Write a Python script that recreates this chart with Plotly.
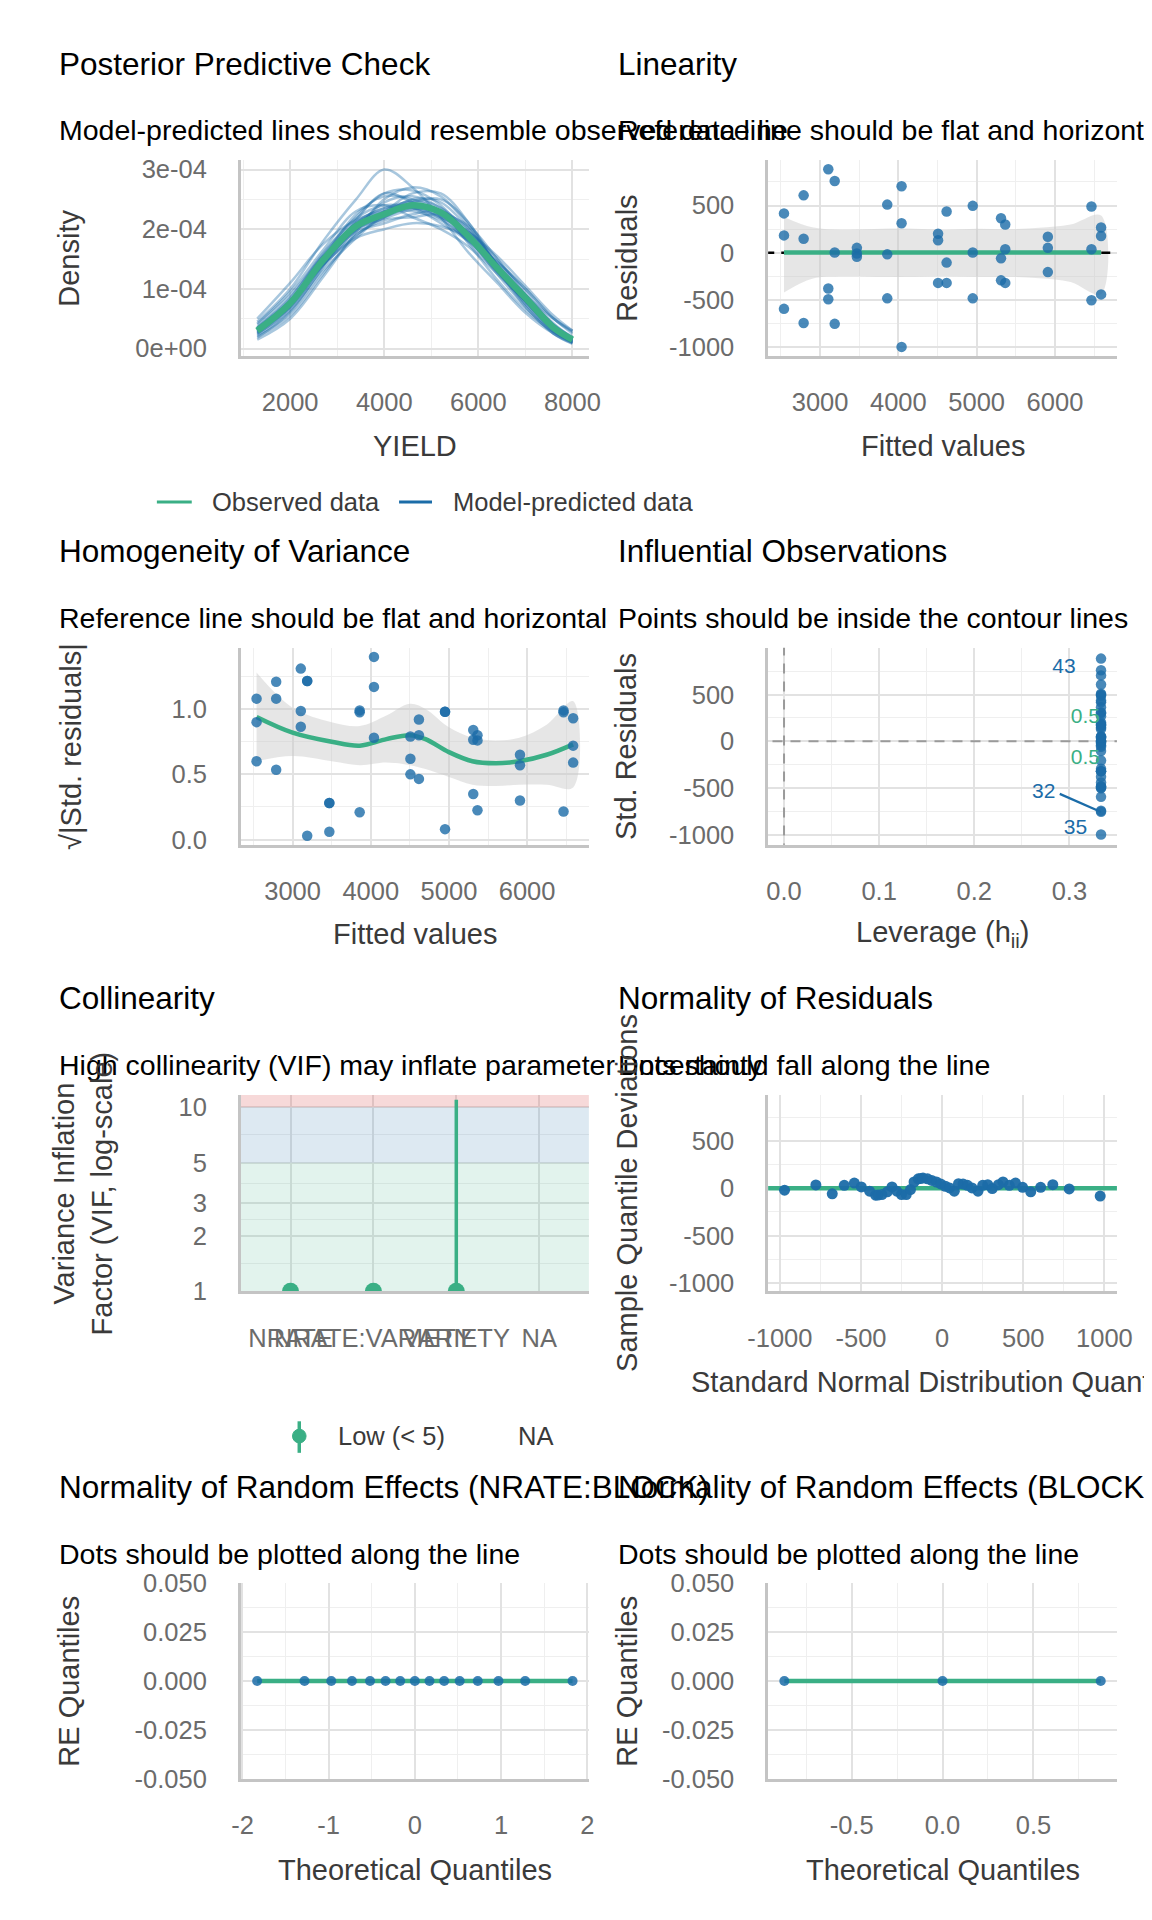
import plotly.graph_objects as go

# ---------------- data ----------------
# Posterior predictive check (density in units of 1e-4)
ppc_x = [1300, 2000, 2700, 3400, 4000, 4600, 5200, 5800, 6400, 7000, 7600, 8000]
ppc_observed = [0.30, 0.76, 1.48, 2.05, 2.25, 2.40, 2.28, 1.87, 1.35, 0.85, 0.35, 0.15]
ppc_predicted = [
    [0.45, 1.00, 1.80, 2.50, 3.00, 2.70, 2.20, 1.60, 1.10, 0.60, 0.25, 0.10],
    [0.25, 0.65, 1.35, 2.00, 2.45, 2.55, 2.35, 1.90, 1.30, 0.80, 0.35, 0.15],
    [0.20, 0.55, 1.25, 1.90, 2.15, 2.20, 2.25, 2.05, 1.50, 0.90, 0.40, 0.20],
    [0.35, 0.85, 1.60, 2.20, 2.60, 2.65, 2.40, 1.85, 1.25, 0.70, 0.25, 0.08],
    [0.30, 0.70, 1.40, 1.85, 2.00, 2.10, 2.05, 1.85, 1.45, 1.00, 0.50, 0.25],
    [0.50, 1.10, 1.75, 2.15, 2.30, 2.30, 2.15, 1.80, 1.30, 0.75, 0.30, 0.12],
    [0.15, 0.50, 1.20, 1.95, 2.50, 2.70, 2.55, 2.05, 1.40, 0.80, 0.30, 0.10],
    [0.28, 0.78, 1.52, 2.10, 2.35, 2.35, 2.10, 1.80, 1.45, 1.00, 0.50, 0.28],
    [0.40, 0.90, 1.55, 2.00, 2.20, 2.45, 2.50, 2.10, 1.40, 0.75, 0.28, 0.10],
    [0.22, 0.62, 1.38, 2.15, 2.60, 2.45, 2.20, 1.95, 1.50, 0.95, 0.42, 0.18],
    [0.35, 0.80, 1.45, 1.95, 2.10, 2.25, 2.30, 2.00, 1.40, 0.85, 0.38, 0.16],
    [0.30, 0.72, 1.50, 2.25, 2.55, 2.50, 2.30, 1.75, 1.15, 0.65, 0.28, 0.12],
    [0.18, 0.60, 1.30, 1.85, 2.25, 2.50, 2.45, 2.00, 1.40, 0.90, 0.50, 0.30],
    [0.42, 0.95, 1.65, 2.30, 2.40, 2.20, 2.00, 1.70, 1.25, 0.80, 0.35, 0.14],
    [0.26, 0.70, 1.45, 2.05, 2.30, 2.60, 2.60, 2.10, 1.35, 0.70, 0.25, 0.09],
    [0.32, 0.75, 1.40, 1.90, 2.20, 2.35, 2.20, 1.95, 1.55, 1.05, 0.55, 0.30],
    [0.33, 0.80, 1.50, 2.10, 2.30, 2.42, 2.30, 1.85, 1.32, 0.82, 0.34, 0.14],
    [0.27, 0.72, 1.45, 2.00, 2.22, 2.38, 2.26, 1.90, 1.38, 0.88, 0.37, 0.16],
    [0.31, 0.79, 1.55, 2.12, 2.35, 2.45, 2.24, 1.82, 1.30, 0.80, 0.32, 0.13],
    [0.29, 0.74, 1.42, 1.98, 2.18, 2.33, 2.31, 1.92, 1.40, 0.89, 0.38, 0.17],
    [0.36, 0.84, 1.58, 2.18, 2.40, 2.36, 2.18, 1.78, 1.28, 0.78, 0.31, 0.12],
    [0.24, 0.68, 1.40, 2.02, 2.28, 2.48, 2.36, 1.95, 1.42, 0.90, 0.40, 0.18],
]
density_unit = 1e-4

# Linearity / homogeneity
fitted = [2539, 2539, 2539, 2790, 2790, 2790, 3105, 3105, 3105, 3187, 3187, 3187,
          3470, 3470, 3470, 3858, 3858, 3858, 4041, 4041, 4041, 4507, 4507, 4507,
          4616, 4616, 4616, 4950, 4950, 4950, 5311, 5311, 5311, 5365, 5365, 5365,
          5909, 5909, 5909, 6466, 6466, 6466, 6589, 6589, 6589]
residuals = [417, 184, -594, 608, 149, -743, 885, -378, -493, 760, 3, -753,
             52, -8, -42, 510, -17, -483, 705, 312, -997, 201, 132, -319,
             437, -104, -319, 497, 3, -483, 365, -59, -292, 299, 38, -319,
             170, 52, -205, 490, 38, -503, 267, 177, -441]
lin_smooth_x = [2539, 3500, 4500, 5500, 6589]
lin_smooth_y = [4, 3, 2, 2, 3]
lin_band_x = [2539, 2900, 3300, 3800, 4200, 4600, 5000, 5400, 5800, 6200, 6589]
lin_band_hi = [380, 270, 245, 255, 255, 245, 255, 250, 265, 300, 395]
lin_band_lo = [-420, -275, -250, -255, -255, -250, -255, -255, -270, -310, -440]

sqrt_std_resid = [1.08, 0.90, 0.60, 1.21, 1.08, 0.535, 1.31, 0.985, 0.864,
                  1.215, 1.215, 0.03, 0.28, 0.28, 0.06, 0.99, 0.975, 0.21,
                  1.40, 1.17, 0.78, 0.79, 0.62, 0.50, 0.92, 0.80, 0.465,
                  0.98, 0.98, 0.08, 0.84, 0.765, 0.35, 0.80, 0.76, 0.225,
                  0.65, 0.57, 0.30, 0.99, 0.975, 0.215, 0.93, 0.72, 0.59]
hom_x = [2539, 3000, 3500, 3860, 4200, 4500, 4700, 5000, 5300, 5600, 5900, 6250, 6589]
hom_line = [0.94, 0.82, 0.75, 0.72, 0.77, 0.80, 0.77, 0.67, 0.60, 0.585, 0.60, 0.65, 0.73]
hom_hi = [1.28, 1.01, 0.90, 0.87, 0.95, 1.04, 1.00, 0.86, 0.78, 0.76, 0.78, 0.88, 1.06]
hom_lo = [0.60, 0.64, 0.60, 0.57, 0.59, 0.57, 0.54, 0.48, 0.42, 0.41, 0.42, 0.42, 0.40]

# Influential observations
leverage = [0.3333] * 45
infl_labels = ["43", "32", "35"]
infl_label_x = [0.2944, 0.2730, 0.3065]
infl_label_y = [790, -552, -938]
contour_labels = ["0.5", "0.5"]
contour_label_x = [0.3168, 0.3168]
contour_label_y = [253, -183]
leader_x = [0.2899, 0.3333]
leader_y = [-562, -755]

# Collinearity
vif_terms = ["NRATE", "NRATE:VARIETY", "VARIETY", "NA"]
vif_pos = [1, 2, 3, 4]
vif_values = [1, 1, 1]
vif_ci_x = [3, 3]
vif_ci_y = [1, 11.0]
vif_zones = [1, 5, 10, 13]

# Normality of residuals (detrended QQ)
qq_x = [-971, -778, -677, -603, -541, -498, -447, -410, -395, -371, -338, -309,
        -279, -250, -221, -195, -173, -147, -132, -118, -90, -64, -35, -9, 20,
        46, 75, 101, 129, 156, 184, 221, 250, 281, 309, 347, 375, 414, 452,
        496, 546, 607, 682, 783, 974]
qq_y = [-21, 35, -59, 31, 55, 14, -31, -73, -72, -66, -38, 14, -31, -66, -66,
        -14, 66, 100, 104, 107, 100, 83, 66, 45, 21, 3, -31, 48, 45, 31, 3,
        -31, 31, 38, -3, 38, 66, 31, 55, 10, -38, 10, 38, -7, -83]
qq_ref_x = [-1200, 1200]
qq_ref_y = [0, 0]

# Random effects QQ
re1_x = [-1.83, -1.28, -0.97, -0.73, -0.52, -0.34, -0.17, 0, 0.17, 0.34, 0.52, 0.73, 0.97, 1.28, 1.83]
re1_y = [0] * 15
re2_x = [-0.87, 0, 0.87]
re2_y = [0, 0, 0]

# ---------------- style ----------------
GREEN = "#3aaf85"
BLUE = "#1b6ca8"
FONT = "Liberation Sans, Arial, sans-serif"
W, H = 1152, 1920
TICK = 25.5
AXT = 29
TTL = 31.5
SUB = 28.5


def px(x):
    return x / W


def py(y):
    return 1 - y / H


COL_L = [px(218.6), px(578)]
COL_R = [px(763), px(1123)]
ROWS = [(140, 339), (635, 835), (1089, 1288), (1584, 1783)]


def ydom(r):
    t, b = ROWS[r]
    return [py(b), py(t)]


def axis(domain, rng, major, labels, minor, anchor, ticklen, typ="linear"):
    d = dict(domain=domain, range=rng, type=typ, tickmode="array", tickvals=major,
             ticktext=labels, showgrid=True, gridcolor="#e2e2e2", gridwidth=1.8,
             showline=True, linecolor="#c4c4c4", linewidth=2.5, zeroline=False,
             ticks="outside", ticklen=ticklen, tickcolor="rgba(0,0,0,0)",
             tickfont=dict(size=TICK, color="#6b6b6b", family=FONT),
             fixedrange=True, anchor=anchor, tickangle=0)
    if minor:
        d["minor"] = dict(tickvals=minor, showgrid=True, gridcolor="#efefef", gridwidth=1.2)
    return d


fig = go.Figure()

# Panel 1: posterior predictive check
for curve in ppc_predicted:
    fig.add_trace(go.Scatter(x=ppc_x, y=[v * density_unit for v in curve], mode="lines",
                             line=dict(color="rgba(27,108,168,0.38)", width=2.5, shape="spline"),
                             xaxis="x", yaxis="y", showlegend=False, hoverinfo="skip"))
fig.add_trace(go.Scatter(x=ppc_x, y=[v * density_unit for v in ppc_observed], mode="lines",
                         line=dict(color=GREEN, width=6.5, shape="spline"),
                         xaxis="x", yaxis="y", showlegend=False))

# Panel 2: linearity
fig.add_trace(go.Scatter(x=lin_band_x + lin_band_x[::-1], y=lin_band_hi + lin_band_lo[::-1],
                         fill="toself", fillcolor="rgba(200,200,200,0.45)", line=dict(width=0, shape="spline"),
                         mode="lines", xaxis="x2", yaxis="y2", showlegend=False, hoverinfo="skip"))
fig.add_trace(go.Scatter(x=[2300, 6850], y=[0, 0], mode="lines",
                         line=dict(color="black", width=2.5, dash="9px,7px"),
                         xaxis="x2", yaxis="y2", showlegend=False))
fig.add_trace(go.Scatter(x=lin_smooth_x, y=lin_smooth_y, mode="lines",
                         line=dict(color=GREEN, width=4.5), xaxis="x2", yaxis="y2", showlegend=False))
fig.add_trace(go.Scatter(x=fitted, y=residuals, mode="markers",
                         marker=dict(color=BLUE, size=10.5, opacity=0.8),
                         xaxis="x2", yaxis="y2", showlegend=False))

# Panel 3: homogeneity of variance
fig.add_trace(go.Scatter(x=hom_x + hom_x[::-1], y=hom_hi + hom_lo[::-1],
                         fill="toself", fillcolor="rgba(200,200,200,0.45)", line=dict(width=0, shape="spline"),
                         mode="lines", xaxis="x3", yaxis="y3", showlegend=False, hoverinfo="skip"))
fig.add_trace(go.Scatter(x=hom_x, y=hom_line, mode="lines",
                         line=dict(color=GREEN, width=4.5, shape="spline"),
                         xaxis="x3", yaxis="y3", showlegend=False))
fig.add_trace(go.Scatter(x=fitted, y=sqrt_std_resid, mode="markers",
                         marker=dict(color=BLUE, size=10.5, opacity=0.8),
                         xaxis="x3", yaxis="y3", showlegend=False))

# Panel 4: influential observations
fig.add_trace(go.Scatter(x=[0, 0], y=[-1200, 1100], mode="lines",
                         line=dict(color="#9a9a9a", width=2, dash="10px,8px"),
                         xaxis="x4", yaxis="y4", showlegend=False))
fig.add_trace(go.Scatter(x=[-0.05, 0.4], y=[0, 0], mode="lines",
                         line=dict(color="#9a9a9a", width=2, dash="10px,8px"),
                         xaxis="x4", yaxis="y4", showlegend=False))
fig.add_trace(go.Scatter(x=leader_x, y=leader_y, mode="lines",
                         line=dict(color=BLUE, width=2.2), xaxis="x4", yaxis="y4", showlegend=False))
fig.add_trace(go.Scatter(x=leverage, y=residuals, mode="markers",
                         marker=dict(color=BLUE, size=10.5, opacity=0.8),
                         xaxis="x4", yaxis="y4", showlegend=False))
fig.add_trace(go.Scatter(x=contour_label_x, y=contour_label_y, mode="text", text=contour_labels,
                         textfont=dict(color=GREEN, size=21, family=FONT),
                         xaxis="x4", yaxis="y4", showlegend=False, cliponaxis=False))
fig.add_trace(go.Scatter(x=infl_label_x, y=infl_label_y, mode="text", text=infl_labels,
                         textfont=dict(color=BLUE, size=21, family=FONT),
                         xaxis="x4", yaxis="y4", showlegend=False, cliponaxis=False))

# Panel 5: collinearity
zone_colors = ["rgba(58,175,133,0.15)", "rgba(27,108,168,0.15)", "rgba(205,32,31,0.17)"]
for i, c in enumerate(zone_colors):
    lo, hi = vif_zones[i], vif_zones[i + 1]
    fig.add_trace(go.Scatter(x=[0.4, 4.6, 4.6, 0.4], y=[lo, lo, hi, hi], fill="toself",
                             fillcolor=c, line=dict(width=0), mode="lines",
                             xaxis="x5", yaxis="y5", showlegend=False, hoverinfo="skip"))
fig.add_trace(go.Scatter(x=vif_ci_x, y=vif_ci_y, mode="lines",
                         line=dict(color=GREEN, width=3.5), xaxis="x5", yaxis="y5", showlegend=False))
fig.add_trace(go.Scatter(x=vif_pos[:3], y=vif_values, mode="markers",
                         marker=dict(color=GREEN, size=17),
                         xaxis="x5", yaxis="y5", showlegend=False))

# Panel 6: normality of residuals
fig.add_trace(go.Scatter(x=qq_ref_x, y=qq_ref_y, mode="lines",
                         line=dict(color=GREEN, width=4.5), xaxis="x6", yaxis="y6", showlegend=False))
fig.add_trace(go.Scatter(x=qq_x, y=qq_y, mode="markers",
                         marker=dict(color=BLUE, size=11, opacity=0.95),
                         xaxis="x6", yaxis="y6", showlegend=False))

# Panel 7/8: random effects
fig.add_trace(go.Scatter(x=re1_x, y=re1_y, mode="lines",
                         line=dict(color=GREEN, width=4.5), xaxis="x7", yaxis="y7", showlegend=False))
fig.add_trace(go.Scatter(x=re1_x, y=re1_y, mode="markers",
                         marker=dict(color=BLUE, size=10, opacity=0.85),
                         xaxis="x7", yaxis="y7", showlegend=False))
fig.add_trace(go.Scatter(x=re2_x, y=re2_y, mode="lines",
                         line=dict(color=GREEN, width=4.5), xaxis="x8", yaxis="y8", showlegend=False))
fig.add_trace(go.Scatter(x=re2_x, y=re2_y, mode="markers",
                         marker=dict(color=BLUE, size=10, opacity=0.85),
                         xaxis="x8", yaxis="y8", showlegend=False))

XT, YT = 22, 26
res_major = [-1000, -500, 0, 500]
res_labels = ["-1000", "-500", "0", "500"]
res_minor = [-750, -250, 250, 750]
fit_major = [3000, 4000, 5000, 6000]
fit_labels = ["3000", "4000", "5000", "6000"]
fit_minor = [2500, 3500, 4500, 5500, 6500]
re_y_major = [-0.05, -0.025, 0, 0.025, 0.05]
re_y_labels = ["-0.050", "-0.025", "0.000", "0.025", "0.050"]
re_y_minor = [-0.0375, -0.0125, 0.0125, 0.0375]

layout_axes = dict(
    xaxis=axis(COL_L, [950, 8350], [2000, 4000, 6000, 8000], ["2000", "4000", "6000", "8000"],
               [1000, 3000, 5000, 7000], "y", XT),
    yaxis=axis(ydom(0), [-0.126e-4, 3.16e-4], [0, 1e-4, 2e-4, 3e-4], ["0e+00", "1e-04", "2e-04", "3e-04"],
               [0.5e-4, 1.5e-4, 2.5e-4], "x", YT),
    xaxis2=axis(COL_R, [2337, 6791], fit_major, fit_labels, fit_minor, "y2", XT),
    yaxis2=axis(ydom(0), [-1094, 983], res_major, res_labels, res_minor, "x2", YT),
    xaxis3=axis(COL_L, [2337, 6791], fit_major, fit_labels, fit_minor, "y3", XT),
    yaxis3=axis(ydom(1), [-0.04, 1.47], [0, 0.5, 1.0], ["0.0", "0.5", "1.0"], [0.25, 0.75, 1.25], "x3", YT),
    xaxis4=axis(COL_R, [-0.0167, 0.35], [0, 0.1, 0.2, 0.3], ["0.0", "0.1", "0.2", "0.3"],
                [0.05, 0.15, 0.25], "y4", XT),
    yaxis4=axis(ydom(1), [-1107, 1001], res_major, res_labels, res_minor, "x4", YT),
    xaxis5=axis(COL_L, [0.4, 4.6], vif_pos, vif_terms, None, "y5", XT),
    yaxis5=axis(ydom(2), [0, 1.066], [1, 2, 3, 5, 10], ["1", "2", "3", "5", "10"],
                [1.414, 2.449, 3.873, 7.071], "x5", YT, typ="log"),
    xaxis6=axis(COL_R, [-1072, 1077], [-1000, -500, 0, 500, 1000], ["-1000", "-500", "0", "500", "1000"],
                [-750, -250, 250, 750], "y6", XT),
    yaxis6=axis(ydom(2), [-1087, 983], res_major, res_labels, res_minor, "x6", YT),
    xaxis7=axis(COL_L, [-2.02, 2.02], [-2, -1, 0, 1, 2], ["-2", "-1", "0", "1", "2"],
                [-1.5, -0.5, 0.5, 1.5], "y7", XT),
    yaxis7=axis(ydom(3), [-0.05, 0.05], re_y_major, re_y_labels, re_y_minor, "x7", YT),
    xaxis8=axis(COL_R, [-0.959, 0.959], [-0.5, 0, 0.5], ["-0.5", "0.0", "0.5"],
                [-0.75, -0.25, 0.25, 0.75], "y8", XT),
    yaxis8=axis(ydom(3), [-0.05, 0.05], re_y_major, re_y_labels, re_y_minor, "x8", YT),
)

ann = []


def text(x, y, s, size, color, xanchor="left", angle=0):
    ann.append(dict(x=px(x), y=py(y), xref="paper", yref="paper", text=s, showarrow=False,
                    xanchor=xanchor, yanchor="middle", textangle=angle,
                    font=dict(size=size, color=color, family=FONT)))


LX, RX = 29, 606
titles = [
    (43, 110, "Posterior Predictive Check", "Model-predicted lines should resemble observed data line",
     "Linearity", "Reference line should be flat and horizontal"),
    (537, 605, "Homogeneity of Variance", "Reference line should be flat and horizontal",
     "Influential Observations", "Points should be inside the contour lines"),
    (990, 1058, "Collinearity", "High collinearity (VIF) may inflate parameter uncertainty",
     "Normality of Residuals", "Dots should fall along the line"),
    (1487, 1555, "Normality of Random Effects (NRATE:BLOCK)", "Dots should be plotted along the line",
     "Normality of Random Effects (BLOCK)", "Dots should be plotted along the line"),
]
for ty, sy, lt, ls, rt, rs in titles:
    text(LX, ty, lt, TTL, "black")
    text(LX, sy, ls, SUB, "black")
    text(RX, ty, rt, TTL, "black")
    text(RX, sy, rs, SUB, "black")

AXC = "#3a3a3a"
CL, CR = (218.6 + 578) / 2, (763 + 1123) / 2
# x axis titles
text(CL, 430, "YIELD", AXT, AXC, "center")
text(CR, 430, "Fitted values", AXT, AXC, "center")
text(CL, 925, "Fitted values", AXT, AXC, "center")
text(CR, 925, "Leverage (h<sub>ii</sub>)", AXT, AXC, "center")
text(CR, 1380, "Standard Normal Distribution Quantiles", AXT, AXC, "center")
text(CL, 1875, "Theoretical Quantiles", AXT, AXC, "center")
text(CR, 1875, "Theoretical Quantiles", AXT, AXC, "center")
# y axis titles
ymid = [(t + b) / 2 for t, b in ROWS]
text(41, ymid[0], "Density", AXT, AXC, "center", -90)
text(617, ymid[0], "Residuals", AXT, AXC, "center", -90)
text(44, ymid[1], "√|Std. residuals|", AXT, AXC, "center", -90)
text(617, ymid[1], "Std. Residuals", AXT, AXC, "center", -90)
text(56, ymid[2], "Variance Inflation<br>Factor (VIF, log-scale)", AXT, AXC, "center", -90)
text(617, ymid[2], "Sample Quantile Deviations", AXT, AXC, "center", -90)
text(41, ymid[3], "RE Quantiles", AXT, AXC, "center", -90)
text(617, ymid[3], "RE Quantiles", AXT, AXC, "center", -90)

# legends
LEG = 25.5
text(187, 487, "Observed data", LEG, AXC)
text(436, 487, "Model-predicted data", LEG, AXC)
text(317, 1435, "Low (< 5)", LEG, AXC)
text(503, 1435, "NA", LEG, AXC)

shapes = [
    dict(type="line", xref="paper", yref="paper", x0=px(132), x1=px(168), y0=py(487), y1=py(487),
         line=dict(color=GREEN, width=3)),
    dict(type="line", xref="paper", yref="paper", x0=px(382), x1=px(416), y0=py(487), y1=py(487),
         line=dict(color=BLUE, width=3)),
    dict(type="line", xref="paper", yref="paper", x0=px(279), x1=px(279), y0=py(1420), y1=py(1452),
         line=dict(color=GREEN, width=3.5)),
    dict(type="circle", xref="paper", yref="paper", x0=px(272), x1=px(286), y0=py(1442), y1=py(1428),
         fillcolor=GREEN, line=dict(color=GREEN, width=1)),
]

fig.update_layout(
    width=W, height=H, autosize=False,
    margin=dict(l=0, r=0, t=0, b=0),
    paper_bgcolor="white", plot_bgcolor="white",
    showlegend=False,
    font=dict(family=FONT),
    annotations=ann, shapes=shapes,
    **layout_axes,
)

fig.write_html("out.html")
